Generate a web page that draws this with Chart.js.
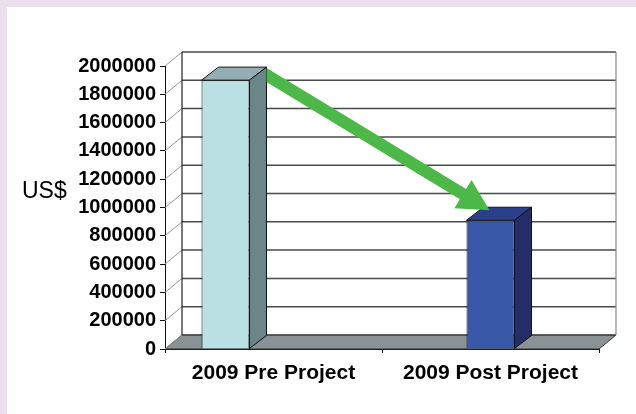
<!DOCTYPE html>
<html>
<head>
<meta charset="utf-8">
<script src="https://cdn.jsdelivr.net/npm/chart.js@4/dist/chart.umd.min.js"></script>
<style>
  html, body { margin: 0; padding: 0; background: #ece0ec; }
  canvas { display: block; }
</style>
</head>
<body>
<canvas id="chart" width="636" height="414"></canvas>
<script>
// data
const categories  = ['2009 Pre Project', '2009 Post Project'];
const preValues   = [1900000, null];
const postValues  = [null, 910000];
const spareValues = [null, null];   // empty third slot, keeps the bars where Excel put them
const yMin  = 0;
const yMax  = 2000000;
const yStep = 200000;

const FONT = 'Arial, "Liberation Sans", sans-serif';

// 3D look
const WALL_DX = 17, WALL_DY = -14;
const BAR_DX  = 17, BAR_DY  = -13;
const fronts = ['#b9e1e4', '#3a58a8'];
const sides  = ['#6b8688', '#232e68'];
const tops   = ['#94afb3', '#2b3f8a'];

const box3d = {
  id: 'box3d',
  beforeDraw(chart) {
    const ctx = chart.ctx;
    ctx.save();
    ctx.fillStyle = '#ece0ec';
    ctx.fillRect(0, 0, chart.width, chart.height);
    ctx.fillStyle = '#ffffff';
    ctx.fillRect(7, 7, chart.width - 7, chart.height - 7);

    ctx.fillStyle = '#000';
    ctx.font = '23px ' + FONT;
    ctx.textAlign = 'left';
    ctx.textBaseline = 'alphabetic';
    ctx.fillText('US$', 22, 198);
    ctx.restore();
  },
  beforeDatasetsDraw(chart) {
    const ctx = chart.ctx;
    const a = chart.chartArea;
    const y = chart.scales.y;
    const L = a.left, R = a.right, B = a.bottom;
    const top = y.getPixelForValue(yMax);
    ctx.save();

    // floor
    ctx.beginPath();
    ctx.moveTo(L, B);
    ctx.lineTo(L + WALL_DX, B + WALL_DY);
    ctx.lineTo(R + WALL_DX, B + WALL_DY);
    ctx.lineTo(R, B);
    ctx.closePath();
    ctx.fillStyle = '#899294';
    ctx.fill();
    ctx.strokeStyle = '#333';
    ctx.lineWidth = 1;
    ctx.stroke();

    // back wall grid + connectors to the front axis
    for (let v = yMin; v <= yMax; v += yStep) {
      const py = y.getPixelForValue(v);
      ctx.strokeStyle = '#999';
      ctx.lineWidth = 1;
      ctx.beginPath();
      ctx.moveTo(L, py);
      ctx.lineTo(L + WALL_DX, py + WALL_DY);
      ctx.stroke();
      ctx.strokeStyle = '#4a4a4a';
      ctx.lineWidth = 1.5;
      ctx.beginPath();
      ctx.moveTo(L + WALL_DX, py + WALL_DY);
      ctx.lineTo(R + WALL_DX, py + WALL_DY);
      ctx.stroke();
    }
    ctx.strokeStyle = '#222';
    ctx.lineWidth = 1.2;
    ctx.beginPath();
    ctx.moveTo(L + WALL_DX, B + WALL_DY);
    ctx.lineTo(L + WALL_DX, top + WALL_DY);
    ctx.stroke();
    ctx.strokeStyle = '#888';
    ctx.beginPath();
    ctx.moveTo(R + WALL_DX, top + WALL_DY);
    ctx.lineTo(R + WALL_DX, B + WALL_DY);
    ctx.stroke();
    ctx.restore();
  },
  afterDatasetsDraw(chart) {
    const ctx = chart.ctx;
    const bars = [];
    chart.data.datasets.forEach((ds, di) => {
      chart.getDatasetMeta(di).data.forEach((el, i) => {
        if (ds.data[i] == null) return;
        bars.push({ el, di });
      });
    });
    ctx.save();
    ctx.strokeStyle = '#111';
    ctx.lineWidth = 1;
    ctx.lineJoin = 'round';
    bars.forEach(({ el, di }) => {
      const l = el.x - el.width / 2, r = el.x + el.width / 2;
      const t = el.y, b = el.base;
      // top face
      ctx.beginPath();
      ctx.moveTo(l, t);
      ctx.lineTo(l + BAR_DX, t + BAR_DY);
      ctx.lineTo(r + BAR_DX, t + BAR_DY);
      ctx.lineTo(r, t);
      ctx.closePath();
      ctx.fillStyle = tops[di];
      ctx.fill();
      ctx.stroke();
      // side face
      ctx.beginPath();
      ctx.moveTo(r, t);
      ctx.lineTo(r + BAR_DX, t + BAR_DY);
      ctx.lineTo(r + BAR_DX, b + BAR_DY);
      ctx.lineTo(r, b);
      ctx.closePath();
      ctx.fillStyle = sides[di];
      ctx.fill();
      ctx.stroke();
    });

    // green arrow from the pre bar down to the post bar
    if (bars.length >= 2) {
      const b1 = bars[0].el, b2 = bars[1].el;
      const x0 = b1.x + b1.width / 2 + BAR_DX;
      const S = { x: x0 - 3, y: b1.y + BAR_DY + 6 };
      const T = { x: b2.x - 1, y: b2.y + BAR_DY + 3 };
      const len = Math.hypot(T.x - S.x, T.y - S.y);
      const u = { x: (T.x - S.x) / len, y: (T.y - S.y) / len };
      const n = { x: -u.y, y: u.x };
      const headLen = 31, headHalf = 16.5, shaftHalf = 6;
      const Bx = T.x - u.x * headLen, By = T.y - u.y * headLen;
      ctx.beginPath();
      ctx.rect(x0, 0, chart.width, chart.height);
      ctx.clip();
      ctx.beginPath();
      ctx.moveTo(S.x + n.x * shaftHalf, S.y + n.y * shaftHalf);
      ctx.lineTo(Bx + n.x * shaftHalf, By + n.y * shaftHalf);
      ctx.lineTo(Bx + n.x * headHalf, By + n.y * headHalf);
      ctx.lineTo(T.x, T.y);
      ctx.lineTo(Bx - n.x * headHalf, By - n.y * headHalf);
      ctx.lineTo(Bx - n.x * shaftHalf, By - n.y * shaftHalf);
      ctx.lineTo(S.x - n.x * shaftHalf, S.y - n.y * shaftHalf);
      ctx.closePath();
      ctx.fillStyle = '#4cb848';
      ctx.fill();
    }
    ctx.restore();
  }
};

const barOpts = { barPercentage: 1, categoryPercentage: 0.6636, borderWidth: 1, borderColor: '#111' };

new Chart(document.getElementById('chart'), {
  type: 'bar',
  data: {
    labels: categories,
    datasets: [
      { label: 'Pre',  data: preValues,   backgroundColor: fronts[0], ...barOpts },
      { label: 'Post', data: postValues,  backgroundColor: fronts[1], ...barOpts },
      { label: '',     data: spareValues, backgroundColor: 'transparent', ...barOpts }
    ]
  },
  options: {
    responsive: false,
    devicePixelRatio: 1,
    animation: false,
    layout: { padding: { top: 66, right: 37, bottom: 0, left: 0 } },
    plugins: { legend: { display: false }, tooltip: { enabled: false } },
    scales: {
      x: {
        grid: { drawOnChartArea: false, tickLength: 4, color: '#111', offset: true },
        border: { display: true, color: '#111' },
        ticks: { color: '#000', padding: 8, font: { family: FONT, size: 21, weight: 'bold' } },
        afterFit(s) { s.height = 65; s.paddingLeft = 0; s.paddingRight = 0; }
      },
      y: {
        min: yMin, max: yMax,
        grid: { drawOnChartArea: false, tickLength: 5, color: '#111' },
        border: { display: true, color: '#111' },
        ticks: {
          stepSize: yStep, color: '#000', padding: 4,
          font: { family: FONT, size: 20, weight: 'bold' },
          callback: v => String(v)
        },
        afterFit(s) { s.width = 165; s.paddingTop = 0; s.paddingBottom = 0; }
      }
    }
  },
  plugins: [box3d]
});
</script>
</body>
</html>
